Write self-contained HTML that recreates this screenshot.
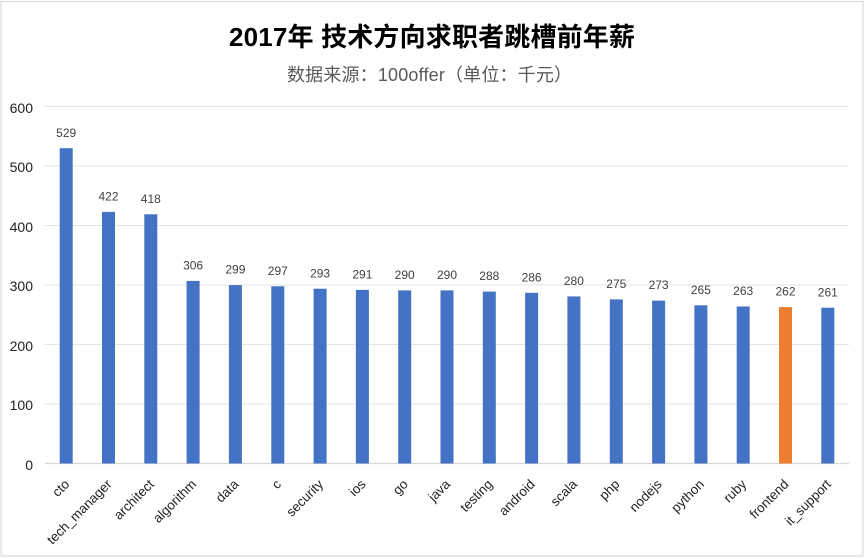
<!DOCTYPE html>
<html><head><meta charset="utf-8"><style>
html,body{margin:0;padding:0;background:#fff;}
svg{display:block;}
</style></head><body>
<svg width="865" height="559" viewBox="0 0 865 559" xmlns="http://www.w3.org/2000/svg">
<rect x="0" y="0" width="865" height="559" fill="#fff"/>
<rect x="1" y="1.5" width="862" height="554.5" fill="#fff" stroke="#d9d9d9" stroke-width="1.2"/>
<text x="229" y="46" textLength="406" lengthAdjust="spacing" font-family="'Liberation Sans','Noto Sans CJK SC',sans-serif" font-size="26" font-weight="bold" fill="#000">2017年 技术方向求职者跳槽前年薪</text>
<text x="287" y="81" textLength="285" lengthAdjust="spacing" font-family="'Liberation Sans','Noto Sans CJK SC',sans-serif" font-size="18" fill="#595959">数据来源：100offer（单位：千元）</text>
<g stroke="#e3e3e3" stroke-width="1">
<line x1="45" x2="849" y1="106.5" y2="106.5"/>
<line x1="45" x2="849" y1="166" y2="166"/>
<line x1="45" x2="849" y1="225.5" y2="225.5"/>
<line x1="45" x2="849" y1="285" y2="285"/>
<line x1="45" x2="849" y1="344.5" y2="344.5"/>
<line x1="45" x2="849" y1="404" y2="404"/>
</g>
<g font-family="'Liberation Sans',sans-serif" font-size="14" fill="#222" text-anchor="end">
<text x="33" y="113">600</text>
<text x="33" y="172">500</text>
<text x="33" y="232">400</text>
<text x="33" y="291">300</text>
<text x="33" y="351">200</text>
<text x="33" y="410">100</text>
<text x="33" y="470">0</text>
</g>
<line x1="45" x2="849" y1="463.5" y2="463.5" stroke="#d6d6d6" stroke-width="1.3"/>
<g font-family="'Liberation Sans',sans-serif" font-size="12" fill="#404040" text-anchor="middle">
<rect x="59.7" y="148.2" width="13" height="315.3" fill="#4472C4"/><text x="66.2" y="137">529</text>
<rect x="102.0" y="211.9" width="13" height="251.6" fill="#4472C4"/><text x="108.5" y="200.5">422</text>
<rect x="144.3" y="214.3" width="13" height="249.2" fill="#4472C4"/><text x="150.8" y="203">418</text>
<rect x="186.6" y="280.9" width="13" height="182.6" fill="#4472C4"/><text x="193.1" y="269.5">306</text>
<rect x="228.9" y="285.1" width="13" height="178.4" fill="#4472C4"/><text x="235.4" y="273.7">299</text>
<rect x="271.3" y="286.3" width="13" height="177.2" fill="#4472C4"/><text x="277.8" y="274.9">297</text>
<rect x="313.6" y="288.7" width="13" height="174.8" fill="#4472C4"/><text x="320.1" y="277.3">293</text>
<rect x="355.9" y="289.9" width="13" height="173.6" fill="#4472C4"/><text x="362.4" y="278.5">291</text>
<rect x="398.2" y="290.4" width="13" height="173.1" fill="#4472C4"/><text x="404.7" y="279">290</text>
<rect x="440.5" y="290.4" width="13" height="173.1" fill="#4472C4"/><text x="447.0" y="279">290</text>
<rect x="482.8" y="291.6" width="13" height="171.9" fill="#4472C4"/><text x="489.3" y="280.2">288</text>
<rect x="525.1" y="292.8" width="13" height="170.7" fill="#4472C4"/><text x="531.6" y="281.4">286</text>
<rect x="567.4" y="296.4" width="13" height="167.1" fill="#4472C4"/><text x="573.9" y="285">280</text>
<rect x="609.8" y="299.4" width="13" height="164.1" fill="#4472C4"/><text x="616.3" y="288">275</text>
<rect x="652.1" y="300.6" width="13" height="162.9" fill="#4472C4"/><text x="658.6" y="289.2">273</text>
<rect x="694.4" y="305.3" width="13" height="158.2" fill="#4472C4"/><text x="700.9" y="293.9">265</text>
<rect x="736.7" y="306.5" width="13" height="157.0" fill="#4472C4"/><text x="743.2" y="295.1">263</text>
<rect x="779.0" y="307.1" width="13" height="156.4" fill="#ED7D31"/><text x="785.5" y="295.7">262</text>
<rect x="821.3" y="307.7" width="13" height="155.8" fill="#4472C4"/><text x="827.8" y="296.3">261</text>
</g>
<g font-family="'Liberation Sans',sans-serif" font-size="13.3" fill="#222" text-anchor="end">
<text transform="translate(70.2,485) rotate(-45)">cto</text>
<text transform="translate(112.5,485) rotate(-45)">tech_manager</text>
<text transform="translate(154.8,485) rotate(-45)">architect</text>
<text transform="translate(197.1,485) rotate(-45)">algorithm</text>
<text transform="translate(239.4,485) rotate(-45)">data</text>
<text transform="translate(281.8,485) rotate(-45)">c</text>
<text transform="translate(324.1,485) rotate(-45)">security</text>
<text transform="translate(366.4,485) rotate(-45)">ios</text>
<text transform="translate(408.7,485) rotate(-45)">go</text>
<text transform="translate(451.0,485) rotate(-45)">java</text>
<text transform="translate(493.3,485) rotate(-45)">testing</text>
<text transform="translate(535.6,485) rotate(-45)">android</text>
<text transform="translate(577.9,485) rotate(-45)">scala</text>
<text transform="translate(620.3,485) rotate(-45)">php</text>
<text transform="translate(662.6,485) rotate(-45)">nodejs</text>
<text transform="translate(704.9,485) rotate(-45)">python</text>
<text transform="translate(747.2,485) rotate(-45)">ruby</text>
<text transform="translate(789.5,485) rotate(-45)">frontend</text>
<text transform="translate(831.8,485) rotate(-45)">it_support</text>
</g>
</svg>
</body></html>
